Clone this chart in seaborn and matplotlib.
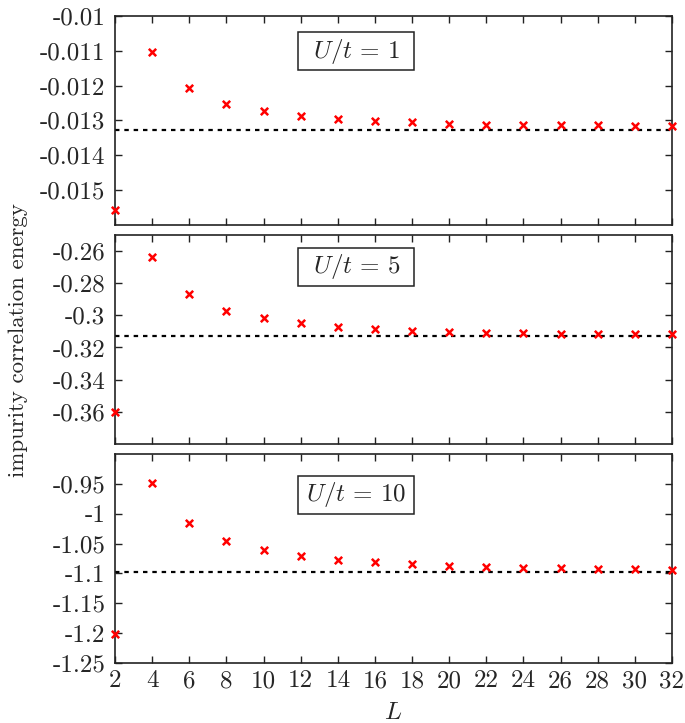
import matplotlib
matplotlib.use("Agg")
import matplotlib.pyplot as plt
import matplotlib.patches as mpatches
from matplotlib.ticker import FuncFormatter, MultipleLocator
import numpy as np
import pandas as pd
import seaborn as sns

# system sizes
L = [2, 4, 6, 8, 10, 12, 14, 16, 18, 20, 22, 24, 26, 28, 30, 32]

# impurity correlation energy per interaction strength
E_U1 = [-0.01557, -0.01103, -0.01207, -0.01252, -0.01273, -0.01288, -0.01297, -0.01302,
        -0.01306, -0.01309, -0.01312, -0.01313, -0.01314, -0.01314, -0.01315, -0.01316]
E_U5 = [-0.3600, -0.2635, -0.2869, -0.2970, -0.3019, -0.3050, -0.3071, -0.3086,
        -0.3095, -0.3103, -0.3109, -0.3110, -0.3113, -0.3114, -0.3115, -0.3116]
E_U10 = [-1.2017, -0.9490, -1.0162, -1.0450, -1.0604, -1.0709, -1.0770, -1.0815,
         -1.0848, -1.0874, -1.0890, -1.0902, -1.0915, -1.0925, -1.0930, -1.0935]

# extrapolated limits (dotted lines)
limits = [-0.01328, -0.3130, -1.098]
U_labels = [r"$U/t \,=\, 1$", r"$U/t \,=\, 5$", r"$U/t \,=\, 10$"]

sns.set_style("ticks")
plt.rcParams["font.family"] = ["cmr10", "DejaVu Serif"]
plt.rcParams["mathtext.fontset"] = "cm"
plt.rcParams["axes.unicode_minus"] = False

fig = plt.figure(figsize=(6.85, 7.23), dpi=100)

left, right = 0.168, 0.981
panels = [(0.689, 0.978), (0.386, 0.675), (0.083, 0.372)]
ylims = [(-0.016, -0.01), (-0.38, -0.25), (-1.25, -0.9)]
yticks = [np.arange(-0.015, -0.0095, 0.001),
          np.arange(-0.36, -0.255, 0.02),
          np.arange(-1.25, -0.945, 0.05)]
box_y = [0.831, 0.849, 0.804]
series = [E_U1, E_U5, E_U10]


def fmt(v, pos):
    return "%g" % round(v, 6)


for i, ((b, t), E) in enumerate(zip(panels, series)):
    ax = fig.add_axes([left, b, right - left, t - b])
    df = pd.DataFrame({"L": L, "E": E})
    ax.axhline(limits[i], color="black", lw=1.6, ls=(0, (2.0, 2.2)), zorder=2)
    sns.scatterplot(data=df, x="L", y="E", ax=ax, marker="x", color="#ff0000",
                    s=28, linewidth=1.8, clip_on=False, zorder=3, legend=False)
    ax.set_xlim(2, 32)
    ax.set_ylim(*ylims[i])
    ax.xaxis.set_major_locator(MultipleLocator(2))
    ax.set_yticks(yticks[i])
    ax.yaxis.set_major_formatter(FuncFormatter(fmt))
    ax.tick_params(direction="in", top=True, right=True, length=5, width=1,
                   labelsize=18, color="#222222")
    ax.tick_params(axis="y", pad=7)
    ax.tick_params(axis="x", pad=5)
    for sp in ax.spines.values():
        sp.set_color("#222222")
        sp.set_linewidth(1.2)
    ax.set_xlabel("")
    ax.set_ylabel("")
    if i < 2:
        ax.tick_params(labelbottom=False)
    else:
        ax.set_xlabel("$L$", fontsize=18, labelpad=7)

    bw, bh = 116 / 557, 38 / 209
    ax.add_patch(mpatches.Rectangle((0.433 - bw / 2, box_y[i] - bh / 2), bw, bh,
                                    transform=ax.transAxes, fill=True, facecolor="white",
                                    edgecolor="#222222", lw=1.1, zorder=4))
    ax.text(0.433, box_y[i], U_labels[i], transform=ax.transAxes, ha="center",
            va="center", fontsize=18, zorder=5)

fig.text(0.026, 0.53, "impurity correlation energy", rotation=90, ha="center",
         va="center", fontsize=16.5)

fig.savefig("out.png", dpi=100)
